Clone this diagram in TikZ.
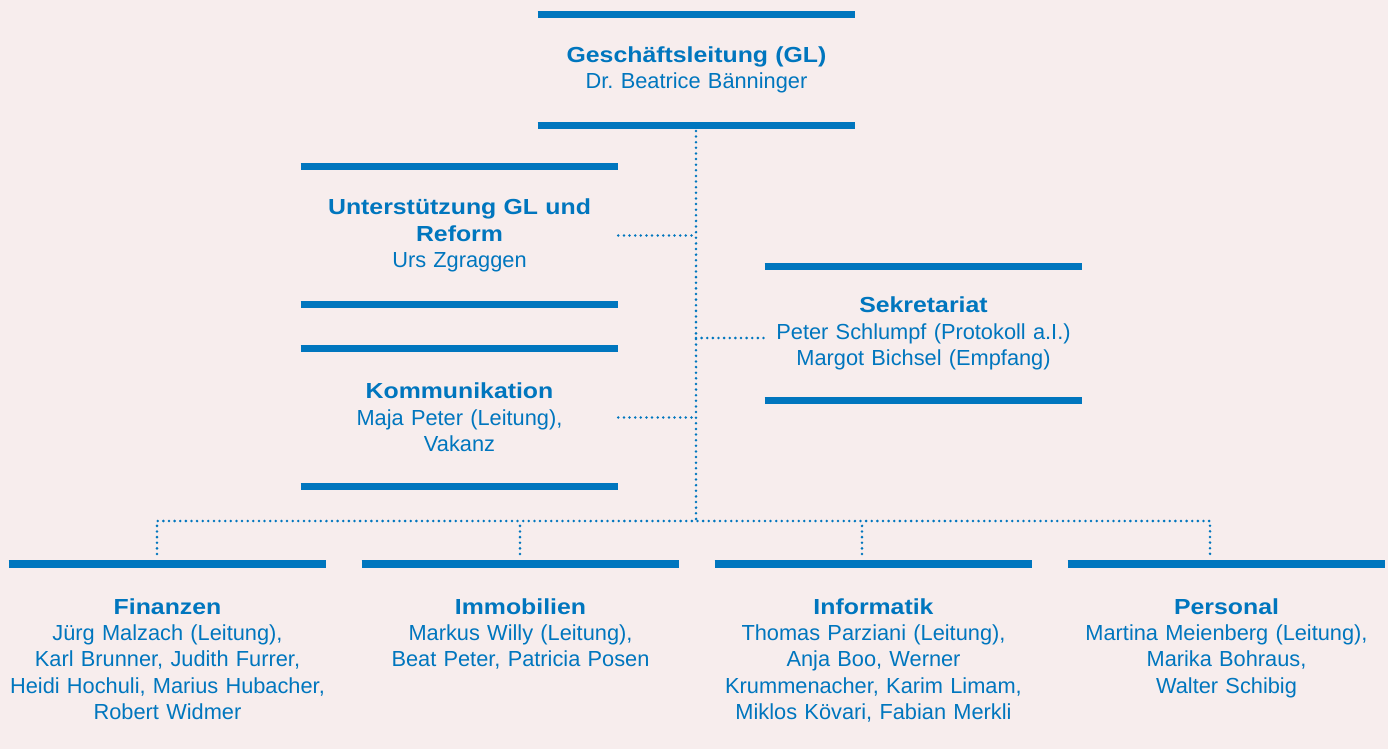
\documentclass[tikz,border=0pt]{standalone}
\usepackage{fontspec}
\setmainfont{Liberation Sans}
\newfontfamily\headfont[FakeStretch=1.14]{Liberation Sans}
\definecolor{orgblue}{RGB}{0,118,190}
\definecolor{orgback}{RGB}{247,237,237}
\newcommand{\unithead}[1]{{\headfont\bfseries #1}}
\frenchspacing
\tikzset{
  unit/.style={text width=6.34cm, inner xsep=0pt, inner ysep=0pt, align=center,
    text=orgblue, font=\fontsize{12.4}{15}\selectfont},
  dept/.style={unit, anchor=north, inner ysep=0.68cm},
  bar/.style={draw=orgblue, line width=4pt},
  dots/.style={draw=orgblue, line width=1.6pt, line cap=round, dash pattern=on 0pt off 3.2pt}
}
\begin{document}
\begin{tikzpicture}[x=0.02cm, y=-0.02cm]
  \fill[orgback, use as bounding box] (0,0) rectangle (1388,749);
  \node[unit, minimum height=2.2cm] at (696.5,70) (gl) {\unithead{Geschäftsleitung (GL)}\\Dr. Beatrice Bänninger};
  \node[unit, minimum height=2.74cm] at (459.5,235.5) (us) {\unithead{Unterstützung GL und}\\\unithead{Reform}\\Urs Zgraggen};
  \node[unit, minimum height=2.74cm] at (459.5,417.5) (kom) {\unithead{Kommunikation}\\Maja Peter (Leitung),\\Vakanz};
  \node[unit, minimum height=2.66cm] at (923.5,333.5) (sek) {\unithead{Sekretariat}\\Peter Schlumpf (Protokoll a.I.)\\Margot Bichsel (Empfang)};
  \node[dept] at (167.5,564) (fin) {\unithead{Finanzen}\\Jürg Malzach (Leitung),\\Karl Brunner, Judith Furrer,\\Heidi Hochuli, Marius Hubacher,\\Robert Widmer};
  \node[dept] at (520.5,564) (imm) {\unithead{Immobilien}\\Markus Willy (Leitung),\\Beat Peter, Patricia Posen};
  \node[dept] at (873.5,564) (inf) {\unithead{Informatik}\\Thomas Parziani (Leitung),\\Anja Boo, Werner\\Krummenacher, Karim Limam,\\Miklos Kövari, Fabian Merkli};
  \node[dept] at (1226.5,564) (pers) {\unithead{Personal}\\Martina Meienberg (Leitung),\\Marika Bohraus,\\Walter Schibig};
  \foreach \u in {gl,us,kom,sek} {
    \draw[bar] (\u.north west) -- (\u.north east);
    \draw[bar] (\u.south west) -- (\u.south east);
  }
  \foreach \u in {fin,imm,inf,pers}
    \draw[bar] (\u.north west) -- (\u.north east);
  \coordinate (hub) at (696,521);
  \coordinate (sekin) at ([yshift=-0.09cm]sek.west);
  \coordinate (d1) at (157,554);
  \coordinate (d2) at (520,554);
  \coordinate (d3) at (862,554);
  \coordinate (d4) at (1210,554);
  \draw[dots] (gl.south -| hub) -- (hub);
  \draw[dots] (us.east) -- (us.east -| hub);
  \draw[dots] (kom.east) -- (kom.east -| hub);
  \draw[dots] (sekin -| hub) -- (sekin);
  \draw[dots] (d1) |- (hub) -| (d4);
  \draw[dots] (d2) -- (d2 |- hub);
  \draw[dots] (d3) -- (d3 |- hub);
\end{tikzpicture}
\end{document}
